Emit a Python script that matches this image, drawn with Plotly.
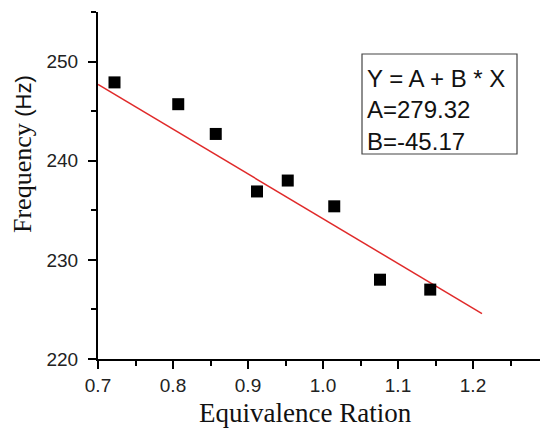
import plotly.graph_objects as go

# Data
ratio = [0.722, 0.807, 0.857, 0.912, 0.953, 1.015, 1.076, 1.143]
frequency = [247.9, 245.7, 242.7, 236.9, 238.0, 235.4, 228.0, 227.0]

fit_A = 279.32
fit_B = -45.17
fit_x = [0.70, 1.212]
fit_y = [fit_A + fit_B * v for v in fit_x]

x_ticks = [0.7, 0.8, 0.9, 1.0, 1.1, 1.2]
x_ticktext = ["0.7", "0.8", "0.9", "1.0", "1.1", "1.2"]
y_ticks = [220, 230, 240, 250]

# page has an 8px body margin; compensate so the plot area lands at
# x 98..548, y 12..359 in the window
OFF = 8
W, H = 548 - OFF, 430 - OFF
L, R, T, B = 98 - OFF, 0, 12 - OFF, 71
PX0, PX1, PY0, PY1 = 98, 548, 12, 359


def px(x):
    return (x - PX0) / (PX1 - PX0)


def py(y):
    return (PY1 - y) / (PY1 - PY0)


fig = go.Figure()
fig.add_trace(go.Scatter(x=fit_x, y=fit_y, mode="lines",
                         line=dict(color="#e02a2a", width=1.5),
                         showlegend=False, hoverinfo="skip"))
fig.add_trace(go.Scatter(x=ratio, y=frequency, mode="markers",
                         marker=dict(symbol="square", size=12, color="black"),
                         showlegend=False))

tickfont = dict(family="Arial, Liberation Sans", size=19, color="#222")
fig.update_xaxes(range=[0.7, 1.3], tickvals=x_ticks, ticktext=x_ticktext,
                 showgrid=False, zeroline=False, showline=True,
                 linecolor="black", linewidth=2, ticks="outside", ticklen=8,
                 tickwidth=2, tickcolor="black", tickfont=tickfont,
                 minor=dict(dtick=0.05, tick0=0.7, ticks="outside", ticklen=5,
                            tickwidth=2, tickcolor="black"))
fig.update_yaxes(range=[220, 255], tickvals=y_ticks,
                 showgrid=False, zeroline=False, showline=True,
                 linecolor="black", linewidth=2, ticks="outside", ticklen=8,
                 tickwidth=2, tickcolor="black", tickfont=tickfont,
                 ticklabelstandoff=6,
                 minor=dict(dtick=5, tick0=220, ticks="outside", ticklen=5,
                            tickwidth=2, tickcolor="black"))

# fit result box
fig.add_shape(type="rect", xref="paper", yref="paper",
              x0=px(362), x1=px(517), y0=py(154), y1=py(54),
              line=dict(color="#444", width=1.2), fillcolor="rgba(0,0,0,0)")
box_lines = ["Y = A + B * X", "A=279.32", "B=-45.17"]
for i, t in enumerate(box_lines):
    fig.add_annotation(text=t, xref="paper", yref="paper",
                       x=px(365), y=py(78 + 31.5 * i), xanchor="left",
                       yanchor="middle", showarrow=False,
                       font=dict(family="Arial, Liberation Sans", size=24,
                                 color="#111"))

# axis titles
fig.add_annotation(text="Equivalence Ration", xref="paper", yref="paper",
                   x=px(305), y=py(413), xanchor="center", yanchor="middle",
                   showarrow=False, borderpad=0,
                   font=dict(family="Times New Roman, Liberation Serif",
                             size=27, color="#111"))
fig.add_annotation(text="Frequency <span style='font-family:Arial, Liberation Sans;font-size:22px'>(Hz)</span>",
                   xref="paper", yref="paper",
                   x=px(22), y=py(154), xanchor="center", yanchor="middle",
                   textangle=-90, showarrow=False, borderpad=0,
                   font=dict(family="Times New Roman, Liberation Serif",
                             size=26, color="#111"))

fig.update_layout(width=W, height=H,
                  margin=dict(l=L, r=R, t=T, b=B, autoexpand=False),
                  paper_bgcolor="white", plot_bgcolor="white",
                  showlegend=False)

fig.write_html("out.html")
